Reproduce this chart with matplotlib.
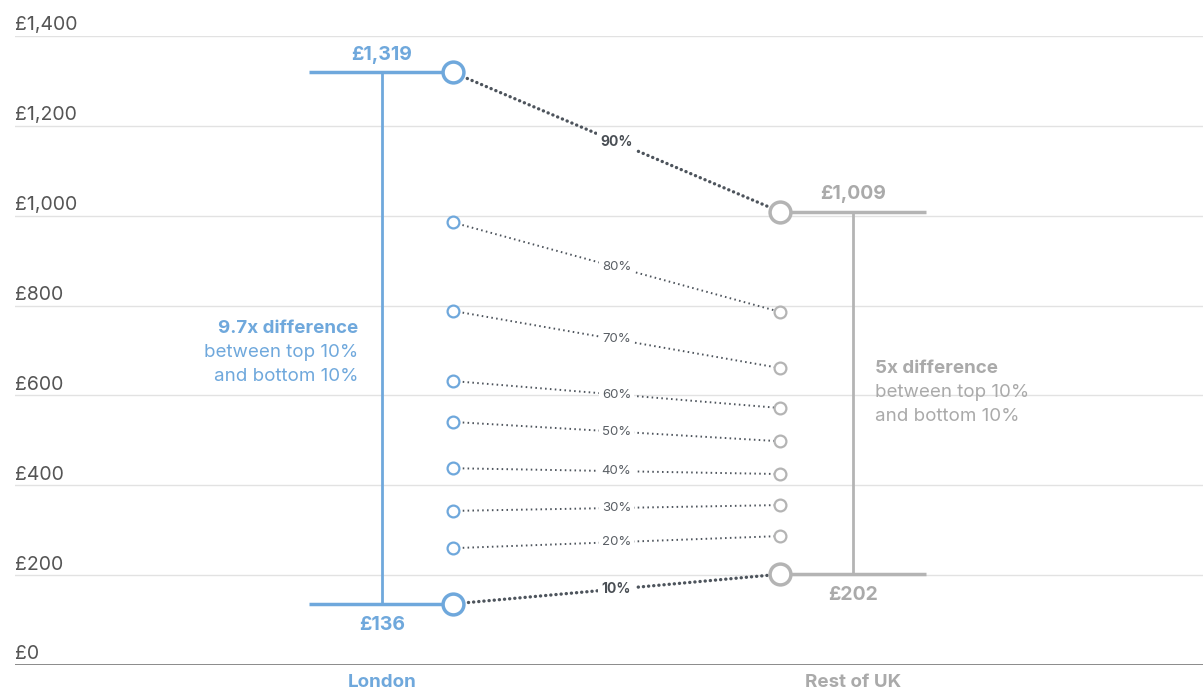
import matplotlib.pyplot as plt

plt.rcParams['font.family'] = ['Inter', 'DejaVu Sans']

# weekly earnings by percentile
percentiles = [10, 20, 30, 40, 50, 60, 70, 80, 90]
london = [136, 260, 343, 438, 541, 632, 788, 985, 1319]
rest_of_uk = [202, 287, 356, 425, 498, 572, 661, 786, 1009]
regions = ['London', 'Rest of UK']
y_ticks = [0, 200, 400, 600, 800, 1000, 1200, 1400]

BLUE = '#6fa8dc'
GREY = '#b4b4b4'
GREY_TEXT = '#aaaaaa'
DOTS = '#4d545c'

# x positions (pixel space of the axes)
x_lon, x_rest = 453, 780
x_lon_bar, x_rest_bar = 382, 853
x_lon_left, x_rest_right = 309, 926

fig = plt.figure(figsize=(12.03, 6.89), dpi=100)
ax = fig.add_axes([15 / 1203, 24 / 689, 1188 / 1203, 629 / 689])
ax.set_xlim(15, 1203)
ax.set_ylim(0, 1400)
ax.axis('off')

for v in y_ticks:
    if v == 0:
        ax.axhline(v, color='#777777', lw=1.2, zorder=1)
    else:
        ax.axhline(v, color='#e2e2e2', lw=1.0, zorder=0)
    ax.annotate(f'£{v:,}', xy=(15, v), xytext=(0, 4), textcoords='offset points',
                ha='left', va='baseline', fontsize=14, color='#555555',
                annotation_clip=False)

# range bars
lo_l, hi_l = london[0], london[-1]
lo_r, hi_r = rest_of_uk[0], rest_of_uk[-1]
ax.plot([x_lon_left, x_lon], [hi_l, hi_l], color=BLUE, lw=2.5, zorder=2, solid_capstyle='butt')
ax.plot([x_lon_left, x_lon], [lo_l, lo_l], color=BLUE, lw=2.5, zorder=2, solid_capstyle='butt')
ax.plot([x_lon_bar, x_lon_bar], [lo_l, hi_l], color=BLUE, lw=2, zorder=2)
ax.plot([x_rest, x_rest_right], [hi_r, hi_r], color=GREY, lw=2.5, zorder=2, solid_capstyle='butt')
ax.plot([x_rest, x_rest_right], [lo_r, lo_r], color=GREY, lw=2.5, zorder=2, solid_capstyle='butt')
ax.plot([x_rest_bar, x_rest_bar], [lo_r, hi_r], color=GREY, lw=2, zorder=2)

# percentile links
for p, a, b in zip(percentiles, london, rest_of_uk):
    big = p in (10, 90)
    if big:
        ax.plot([x_lon, x_rest], [a, b], color=DOTS, lw=2.4, zorder=3,
                linestyle=(0, (0.05, 1.5)), dash_capstyle='round')
    else:
        ax.plot([x_lon, x_rest], [a, b], color=DOTS, lw=1.4, zorder=3,
                linestyle=(0, (0.8, 1.7)))
    ms = 15 if big else 8.5
    mew = 2.5 if big else 1.6
    ax.plot(x_lon, a, 'o', ms=ms, mfc='white', mec=BLUE, mew=mew, zorder=5)
    ax.plot(x_rest, b, 'o', ms=ms, mfc='white', mec=GREY, mew=mew, zorder=5)
    ax.text((x_lon + x_rest) / 2, (a + b) / 2, f'{p}%', ha='center', va='center',
            fontsize=10 if big else 9.5, fontweight='bold' if big else 'normal',
            color='#4a4f55' if big else '#5a5f65', zorder=4,
            bbox=dict(boxstyle='square,pad=0.25', fc='white', ec='none'))

# value labels
ax.annotate(f'£{hi_l:,}', xy=(x_lon_bar, hi_l), xytext=(0, 6), textcoords='offset points',
            ha='center', va='bottom', fontsize=14, fontweight='bold', color=BLUE)
ax.annotate(f'£{lo_l:,}', xy=(x_lon_bar, lo_l), xytext=(0, -8.5), textcoords='offset points',
            ha='center', va='top', fontsize=14, fontweight='bold', color=BLUE)
ax.annotate(f'£{hi_r:,}', xy=(x_rest_bar, hi_r), xytext=(0, 6), textcoords='offset points',
            ha='center', va='bottom', fontsize=14, fontweight='bold', color=GREY_TEXT)
ax.annotate(f'£{lo_r:,}', xy=(x_rest_bar, lo_r), xytext=(0, -8.5), textcoords='offset points',
            ha='center', va='top', fontsize=14, fontweight='bold', color=GREY_TEXT)

# ratio notes
ratio_l = round(hi_l / lo_l, 1)
ratio_r = round(hi_r / lo_r)
ax.text(358, 748, f'{ratio_l}x difference', ha='right', va='center',
        fontsize=13.5, fontweight='bold', color=BLUE)
ax.text(358, 695, 'between top 10%', ha='right', va='center', fontsize=13.5, color=BLUE)
ax.text(358, 643, 'and bottom 10%', ha='right', va='center', fontsize=13.5, color=BLUE)
ax.text(875, 659, f'{ratio_r}x difference', ha='left', va='center',
        fontsize=13.5, fontweight='bold', color=GREY_TEXT)
ax.text(875, 606, 'between top 10%', ha='left', va='center', fontsize=13.5, color=GREY_TEXT)
ax.text(875, 554, 'and bottom 10%', ha='left', va='center', fontsize=13.5, color=GREY_TEXT)

# region names
for name, x, c in zip(regions, [x_lon_bar, x_rest_bar], [BLUE, GREY_TEXT]):
    ax.annotate(name, xy=(x, 0), xytext=(0, -12.5), textcoords='offset points',
                ha='center', va='center', fontsize=13.5, fontweight='bold', color=c,
                annotation_clip=False)

fig.savefig('out.png', dpi=100)
